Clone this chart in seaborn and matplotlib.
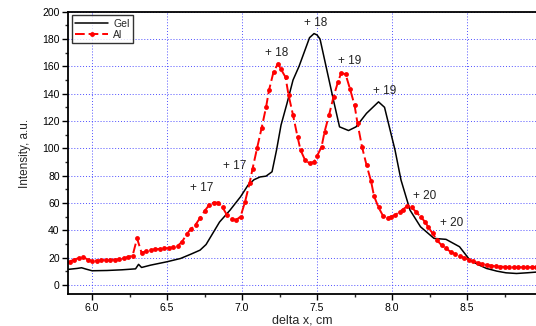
import numpy as np
import pandas as pd
import matplotlib
matplotlib.use("Agg")
import matplotlib.pyplot as plt
import seaborn as sns
from matplotlib.ticker import MultipleLocator

# Gel series (black solid line)
gel_x = [5.84, 5.90, 5.93, 5.96, 6.00, 6.10, 6.20, 6.29, 6.31, 6.33, 6.39, 6.50,
         6.59, 6.66, 6.72, 6.76, 6.79, 6.85, 6.92, 6.99, 7.04, 7.08, 7.12, 7.16,
         7.20, 7.23, 7.26, 7.30, 7.34, 7.38, 7.42, 7.45, 7.48, 7.50, 7.52, 7.56,
         7.61, 7.65, 7.71, 7.76, 7.83, 7.91, 7.95, 8.02, 8.06, 8.12, 8.19, 8.28,
         8.36, 8.45, 8.52, 8.58, 8.63, 8.70, 8.76, 8.83, 8.90, 8.96]
gel_y = [11.3, 12.0, 12.5, 11.5, 10.3, 10.5, 11.0, 11.7, 15.0, 12.7, 14.4, 16.9,
         19.3, 22.5, 25.4, 29.5, 35.0, 46.0, 54.7, 64.5, 73.0, 77.0, 79.0, 79.6,
         82.8, 98.7, 117.0, 133.0, 150.0, 160.0, 172.0, 181.0, 184.0, 183.0, 180.0, 160.0,
         135.0, 115.7, 113.0, 115.7, 125.6, 134.0, 130.0, 98.7, 76.7, 54.7, 42.5, 34.0,
         33.3, 27.9, 18.0, 14.5, 12.0, 10.0, 8.8, 8.3, 8.8, 9.3]

# Al series (red dashed line with markers)
al_x = [5.85, 5.88, 5.91, 5.94, 5.97, 6.00, 6.03, 6.06, 6.09, 6.12, 6.15, 6.18,
        6.21, 6.24, 6.27, 6.30, 6.33, 6.36, 6.39, 6.42, 6.45, 6.48, 6.51, 6.54,
        6.57, 6.60, 6.63, 6.66, 6.69, 6.72, 6.75, 6.78, 6.81, 6.84, 6.87, 6.90,
        6.93, 6.96, 6.99, 7.02, 7.05, 7.07, 7.10, 7.13, 7.16, 7.18, 7.21, 7.24,
        7.26, 7.29, 7.31, 7.34, 7.37, 7.39, 7.42, 7.45, 7.48, 7.50, 7.53, 7.55,
        7.58, 7.61, 7.64, 7.66, 7.69, 7.72, 7.75, 7.77, 7.80, 7.83, 7.86, 7.88,
        7.91, 7.94, 7.97, 7.99, 8.02, 8.05, 8.07, 8.10, 8.13, 8.16, 8.19, 8.22,
        8.24, 8.27, 8.30, 8.33, 8.36, 8.39, 8.42, 8.45, 8.48, 8.51, 8.54, 8.57,
        8.60, 8.63, 8.66, 8.69, 8.72, 8.75, 8.78, 8.81, 8.84, 8.87, 8.90, 8.93, 8.96]
al_y = [17.0, 18.5, 19.5, 20.5, 18.5, 17.5, 17.8, 18.0, 18.2, 18.3, 18.5, 18.8,
        19.3, 20.5, 21.3, 34.0, 23.5, 24.5, 25.5, 26.0, 26.3, 26.7, 27.0, 27.5,
        28.5, 31.5, 37.0, 41.0, 44.0, 49.0, 54.0, 58.4, 60.2, 60.2, 56.7, 51.0,
        48.3, 47.4, 50.0, 60.8, 74.3, 85.0, 100.0, 114.6, 130.0, 142.6, 156.0, 162.0,
        157.8, 152.0, 139.0, 124.3, 108.4, 98.7, 91.4, 89.0, 90.0, 94.3, 101.0, 112.0,
        124.3, 137.7, 148.7, 154.9, 154.4, 143.4, 131.6, 118.2, 101.0, 87.7, 76.0, 65.0,
        56.7, 50.5, 49.0, 49.8, 51.0, 53.5, 55.0, 57.5, 56.7, 53.5, 49.8, 46.2,
        42.5, 37.7, 32.7, 29.0, 26.7, 24.2, 22.5, 21.2, 19.8, 18.5, 17.2, 16.2,
        15.3, 14.6, 14.1, 13.7, 13.4, 13.2, 13.0, 12.8, 12.8, 12.9, 12.8, 12.9, 13.0]

# peak annotations
peak_labels = ["+ 17", "+ 17", "+ 18", "+ 18", "+ 19", "+ 19", "+ 20", "+ 20"]
peak_x = [6.73, 6.95, 7.23, 7.49, 7.72, 7.95, 8.22, 8.40]
peak_y = [70.8, 87.0, 170.0, 192.0, 164.0, 142.0, 65.0, 45.0]

gel = pd.DataFrame({"x": gel_x, "y": gel_y})
al = pd.DataFrame({"x": al_x, "y": al_y})

sns.set_style("ticks")
plt.rcParams['font.family'] = ['Liberation Sans', 'DejaVu Sans']

fig = plt.figure(figsize=(5.36, 3.26), dpi=100)
ax = fig.add_axes([0.127, 0.097, 0.873, 0.867])

sns.lineplot(data=gel, x="x", y="y", ax=ax, color="black", linewidth=1.1,
             label="Gel", estimator=None, sort=False)
sns.lineplot(data=al, x="x", y="y", ax=ax, color="red", linewidth=1.4,
             linestyle=(0, (5, 2)), marker="o", markersize=3.5, markeredgewidth=0,
             label="Al", estimator=None, sort=False)

for t, px, py in zip(peak_labels, peak_x, peak_y):
    ax.text(px, py, t, ha="center", va="center", fontsize=8.5, color="#222222")

ax.set_xlim(5.84, 8.96)
ax.set_ylim(-7, 200)
ax.xaxis.set_major_locator(MultipleLocator(0.5))
ax.xaxis.set_minor_locator(MultipleLocator(0.25))
ax.yaxis.set_major_locator(MultipleLocator(20))
ax.yaxis.set_minor_locator(MultipleLocator(10))
ax.xaxis.set_major_formatter(matplotlib.ticker.FormatStrFormatter("%.1f"))

ax.grid(True, which="major", color="#3030ff", linestyle=(0, (1, 2)), linewidth=0.7, alpha=0.85)
ax.tick_params(axis="both", which="major", direction="out", length=4, width=1,
               labelsize=7.5, colors="black", pad=2)
ax.tick_params(axis="both", which="minor", direction="out", length=2.5, width=1)

for s in ["left", "bottom", "top"]:
    ax.spines[s].set_linewidth(1.3)
    ax.spines[s].set_color("black")
ax.spines["right"].set_visible(False)

ax.set_xlabel("delta x, cm", fontsize=9, labelpad=1)
ax.set_ylabel("Intensity, a.u.", fontsize=8.5, labelpad=8)

leg = ax.legend(loc="upper left", fontsize=7.5, frameon=True, fancybox=False,
                borderpad=0.3, handlelength=3.2, handletextpad=0.5,
                labelspacing=0.15, borderaxespad=0.35)
leg.get_frame().set_edgecolor("black")
leg.get_frame().set_linewidth(1.0)

fig.savefig("out.png", dpi=100)
